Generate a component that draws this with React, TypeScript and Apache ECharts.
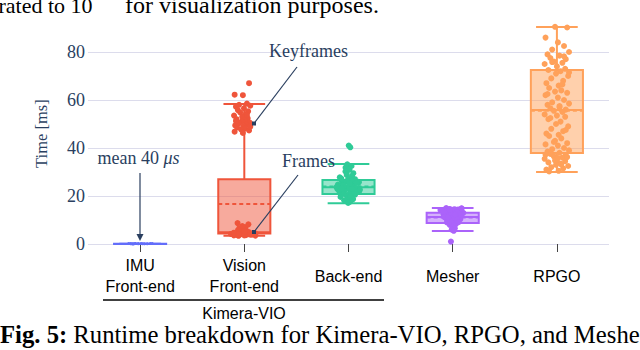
import React, { useEffect, useRef } from "react";
import * as echarts from "echarts";

// ---------------- data ----------------
const CATEGORIES = ["IMU\nFront-end", "Vision\nFront-end", "Back-end", "Mesher", "RPGO"];
const GROUP_LABEL = "Kimera-VIO";
const Y_TITLE = "Time [ms]";
const Y_MIN = 0;
const Y_MAX = 92;
const Y_STEP = 20;

// box statistics: [min, q1, median, q3, max, mean]
const IMU_STATS = [0.0, 0.02, 0.04, 0.06, 0.12, 0.04];
const VISION_STATS = [3.4, 4.4, 4.9, 27.0, 58.3, 16.7];
const BACKEND_STATS = [17.0, 20.8, 23.6, 26.7, 33.3, 24.0];
const MESHER_STATS = [5.4, 8.8, 11.2, 13.0, 15.0, 11.0];
const RPGO_STATS = [30.0, 37.9, 55.8, 72.5, 90.4, 55.5];

// individual samples (ms)
const IMU_POINTS = [0.05, 0.1, 0.15, 0.2, 0.22, 0.18, 0.12, 0.25, 0.2, 0.15, 0.08, 0.05];
const VISION_KEYFRAMES = [
  67, 62.2, 62, 58.5, 58, 57.6, 57.2, 56.5, 55.8, 55.3, 54.8, 54.1, 53.5, 53, 52.4, 52,
  51.6, 51, 50.6, 50.2, 49.8, 49.4, 49, 48.6, 48.2, 47.8, 47.3, 46.8, 46.3, 53.8, 50.4,
  48.9, 51.3,
];
const VISION_FRAMES = [
  3.4, 3.5, 3.6, 3.7, 3.8, 3.9, 4.0, 4.1, 4.2, 4.3, 4.4, 4.5, 4.6, 4.8, 5.0, 5.2, 5.5,
  5.8, 6.2, 6.6, 7.0, 7.5, 8.2, 8.7, 3.6, 3.9, 4.1, 4.4, 4.7, 5.3,
];
const BACKEND_POINTS = [
  41, 40.3, 33.2, 32.5, 31.8, 31, 30.2, 29.5, 28.8, 28.3, 27.8, 27.4, 27, 26.6, 26.3, 26,
  25.7, 25.4, 25.1, 24.8, 24.5, 24.2, 23.9, 23.6, 23.3, 23, 22.7, 22.4, 22.1, 21.8, 21.5,
  21.2, 20.9, 20.6, 20.3, 20, 19.6, 19.2, 18.7, 18.2, 17.6, 17.1, 25.9, 24.6, 23.4, 22.2,
  21.1, 24.1, 22.9, 26.2, 21.9, 23.7, 25.2, 20.8, 24.4, 22.6, 27.2, 19.9, 23.1, 25.5,
];
const MESHER_POINTS = [
  15.0, 14.8, 14.6, 14.4, 14.2, 14.0, 13.8, 13.6, 13.4, 13.2, 13.0, 12.8, 12.6, 12.4, 12.2,
  12.0, 11.8, 11.6, 11.4, 11.2, 11.0, 10.8, 10.6, 10.4, 10.2, 10.0, 9.8, 9.6, 9.4, 9.2,
  9.0, 8.7, 8.4, 8.0, 7.6, 7.1, 6.6, 6.0, 5.5, 1.0, 14.5, 13.9, 13.3, 12.7, 12.1, 11.5,
  10.9, 10.3, 9.7, 9.1, 13.5, 12.3, 11.1, 14.9, 14.3,
];
const RPGO_POINTS = [
  90.5, 90.2, 86, 84, 82.5, 81, 80, 79, 78.5, 77.5, 77, 76, 75.5, 75, 74, 73, 72.5, 72, 71,
  70, 69, 68, 67, 66, 65, 64, 63.5, 63, 62, 61, 60, 59, 58.5, 58, 57, 56.5, 56, 55.5, 55,
  54, 53.5, 53, 52, 51, 50, 49, 48, 47, 46, 45.5, 45, 44, 43, 42, 41.5, 41, 40, 39.5, 39,
  38.5, 38, 37.5, 37, 36.5, 36, 35.5, 35, 34.5, 34, 33.5, 33, 32.5, 32, 31.5, 31, 30.5,
  30.2, 33.2, 34.8, 36.2, 37.2, 35.8, 78.2, 75.8, 71.5, 62.5, 57.5, 52.5, 47.5, 42.5, 66.5,
];

// ---------------- styles / layout ----------------
const COLORS = ["#636EFA", "#EF553B", "#2FCB97", "#AB63FA", "#FFA15A"];
const INK = "#2a3f5f";
const GRID_COLOR = "#dcdcec";
const SERIF = "'Liberation Serif', 'Times New Roman', serif";
const SANS = "'Liberation Sans', Arial, sans-serif";
const JITTER = [
  -0.62, 0.35, -0.15, 0.82, -0.91, 0.08, 0.57, -0.38, 0.97, -0.75, 0.21, -0.52, 0.71,
  -0.24, 0.44, -0.98, 0.0, 0.66, -0.68, 0.29, -0.07, 0.9, -0.45, 0.5, -0.84, 0.14,
];

const BOX_STATS = [IMU_STATS, VISION_STATS, BACKEND_STATS, MESHER_STATS, RPGO_STATS];

type Group = { cat: number; values: number[]; spread: (v: number) => number; shift: number; phase: number; size: number };
const GROUPS: Group[] = [
  { cat: 0, values: IMU_POINTS, spread: () => 0.12, shift: 0, phase: 0, size: 3 },
  { cat: 1, values: VISION_KEYFRAMES, spread: () => 0.08, shift: -0.02, phase: 3, size: 6 },
  { cat: 1, values: VISION_FRAMES, spread: (v) => (v < 5 ? 0.12 : 0.06), shift: -0.01, phase: 7, size: 6 },
  { cat: 2, values: BACKEND_POINTS, spread: (v) => Math.max(0.03, 0.13 * (1 - Math.abs(v - 24) / 11)), shift: 0, phase: 5, size: 6 },
  { cat: 3, values: MESHER_POINTS, spread: (v) => Math.max(0.02, 0.12 * Math.min(1, (v - 5) / 8.5)), shift: 0, phase: 11, size: 6 },
  { cat: 4, values: RPGO_POINTS, spread: () => 0.12, shift: 0, phase: 2, size: 6 },
];

export default function App() {
  const ref = useRef<HTMLDivElement>(null);

  useEffect(() => {
    if (!ref.current) return;
    const chart = echarts.init(ref.current, undefined, { renderer: "svg" });

    const boxData = BOX_STATS.map((s, i) => [i, ...s]);

    const renderBox = (params: any, api: any) => {
      const idx = api.value(0);
      const [mn, q1, med, q3, mx, mean] = [1, 2, 3, 4, 5, 6].map((d) => api.value(d));
      const bw = api.size([1, 0])[0];
      const cx = api.coord([idx, 0])[0];
      const y = (v: number) => api.coord([idx, v])[1];
      const half = bw * 0.25;
      const cap = bw * 0.2;
      const color = COLORS[idx];
      const lw = 2;
      return {
        type: "group",
        children: [
          { type: "line", shape: { x1: cx, y1: y(q3), x2: cx, y2: y(mx) }, style: { stroke: color, lineWidth: lw } },
          { type: "line", shape: { x1: cx, y1: y(q1), x2: cx, y2: y(mn) }, style: { stroke: color, lineWidth: lw } },
          { type: "line", shape: { x1: cx - cap, y1: y(mx), x2: cx + cap, y2: y(mx) }, style: { stroke: color, lineWidth: lw } },
          { type: "line", shape: { x1: cx - cap, y1: y(mn), x2: cx + cap, y2: y(mn) }, style: { stroke: color, lineWidth: lw } },
          {
            type: "rect",
            shape: { x: cx - half, y: y(q3), width: half * 2, height: Math.max(0.01, y(q1) - y(q3)) },
            style: { fill: echarts.color.modifyAlpha(color, 0.5), stroke: color, lineWidth: lw },
          },
          { type: "line", shape: { x1: cx - half, y1: y(med), x2: cx + half, y2: y(med) }, style: { stroke: color, lineWidth: lw } },
          {
            type: "line",
            shape: { x1: cx - half, y1: y(mean), x2: cx + half, y2: y(mean) },
            style: { stroke: color, lineWidth: lw, lineDash: [4, 3] },
          },
        ],
      };
    };

    const scatterSeries = GROUPS.map((g) => ({
      type: "scatter",
      xAxisIndex: 1,
      yAxisIndex: 0,
      symbol: "circle",
      symbolSize: g.size,
      z: 3,
      silent: true,
      itemStyle: { color: COLORS[g.cat], opacity: 1 },
      data: g.values.map((v, k) => [g.cat + g.shift + JITTER[(k + g.phase) % JITTER.length] * g.spread(v), v]),
    }));

    const arrowHead = (x: number, y: number) => ({
      type: "polygon",
      z: 100,
      shape: { points: [[x - 3.5, y - 7], [x + 3.5, y - 7], [x, y]] },
      style: { fill: INK },
    });

    chart.setOption({
      animation: false,
      backgroundColor: "#ffffff",
      grid: { left: 88, right: 31, top: 23.2, bottom: 106, containLabel: false, outerBoundsMode: "none" },
      xAxis: [
        {
          type: "category",
          data: CATEGORIES,
          boundaryGap: true,
          axisLine: { show: false },
          axisTick: { show: true, alignWithLabel: true, length: 8, lineStyle: { color: "#444", width: 1 } },
          axisLabel: {
            interval: 0,
            fontFamily: SANS,
            fontSize: 16,
            color: "#000",
            lineHeight: 21,
            margin: 32,
            verticalAlign: "middle",
          },
          splitLine: { show: false },
        },
        { type: "value", min: -0.5, max: 4.5, show: false },
      ],
      yAxis: {
        type: "value",
        min: Y_MIN,
        max: Y_MAX,
        interval: Y_STEP,
        axisLine: { show: false },
        axisTick: { show: false },
        splitLine: { show: true, showMaxLine: false, lineStyle: { color: GRID_COLOR, width: 1 } },
        axisLabel: { fontFamily: SERIF, fontSize: 18, color: INK, margin: 3, showMaxLabel: false },
        name: Y_TITLE,
        nameLocation: "middle",
        nameGap: 38,
        nameTextStyle: { fontFamily: SERIF, fontSize: 16.5, color: INK },
      },
      series: [
        {
          type: "custom",
          xAxisIndex: 0,
          yAxisIndex: 0,
          z: 2,
          silent: true,
          renderItem: renderBox,
          encode: { x: 0, y: [1, 2, 3, 4, 5] },
          data: boxData,
        },
        ...scatterSeries,
      ],
      graphic: [
        // text above the figure (cropped paper text)
        { type: "text", z: 100, x: -1.5, y: 5, style: { text: "rated to 10", font: `22px ${SERIF}`, fill: "#000", textVerticalAlign: "middle" } },
        { type: "text", z: 100, x: 93, y: 2.5, style: { text: "3", font: `14px ${SERIF}`, fill: "#000", textVerticalAlign: "bottom" } },
        { type: "text", z: 100, x: 125, y: 5, style: { text: "for visualization purposes.", font: `24px ${SERIF}`, fill: "#000", textVerticalAlign: "middle" } },
        // annotations
        { type: "text", z: 100, x: 138.5, y: 158, style: { rich: { n: { font: `18px ${SERIF}`, fill: INK }, i: { font: `italic 18px ${SERIF}`, fill: INK } }, text: "{n|mean 40 }{i|μs}", textAlign: "center", textVerticalAlign: "middle" } },
        { type: "line", z: 100, shape: { x1: 140, y1: 173, x2: 140, y2: 236 }, style: { stroke: INK, lineWidth: 1.2 } },
        arrowHead(140, 241),
        { type: "text", z: 100, x: 308.5, y: 51, style: { text: "Keyframes", font: `18px ${SERIF}`, fill: INK, textAlign: "center", textVerticalAlign: "middle" } },
        { type: "line", z: 100, shape: { x1: 297, y1: 67, x2: 254, y2: 123.5 }, style: { stroke: INK, lineWidth: 1.2 } },
        { type: "rect", z: 100, shape: { x: 252, y: 121.5, width: 4, height: 4 }, style: { fill: INK } },
        { type: "text", z: 100, x: 308.5, y: 161, style: { text: "Frames", font: `18px ${SERIF}`, fill: INK, textAlign: "center", textVerticalAlign: "middle" } },
        { type: "line", z: 100, shape: { x1: 298, y1: 175, x2: 254, y2: 232 }, style: { stroke: INK, lineWidth: 1.2 } },
        { type: "rect", z: 100, shape: { x: 252, y: 230, width: 4, height: 4 }, style: { fill: INK } },
        // group bracket
        { type: "line", z: 100, shape: { x1: 103, y1: 300, x2: 384, y2: 300 }, style: { stroke: "#000", lineWidth: 1.6 } },
        { type: "text", z: 100, x: 244, y: 313.5, style: { text: GROUP_LABEL, font: `16px ${SANS}`, fill: "#000", textAlign: "center", textVerticalAlign: "middle" } },
        // caption
        {
          type: "text",
          z: 100,
          x: 0,
          y: 334.5,
          style: {
            rich: { b: { font: `bold 24.7px ${SERIF}`, fill: "#000" }, n: { font: `24.7px ${SERIF}`, fill: "#000" } },
            text: "{b|Fig. 5:}{n| Runtime breakdown for Kimera-VIO, RPGO, and Mesher.}",
            textVerticalAlign: "middle",
          },
        },
      ],
    });

    return () => chart.dispose();
  }, []);

  return <div ref={ref} style={{ position: "absolute", left: 0, top: 0, width: 640, height: 350 }} />;
}
